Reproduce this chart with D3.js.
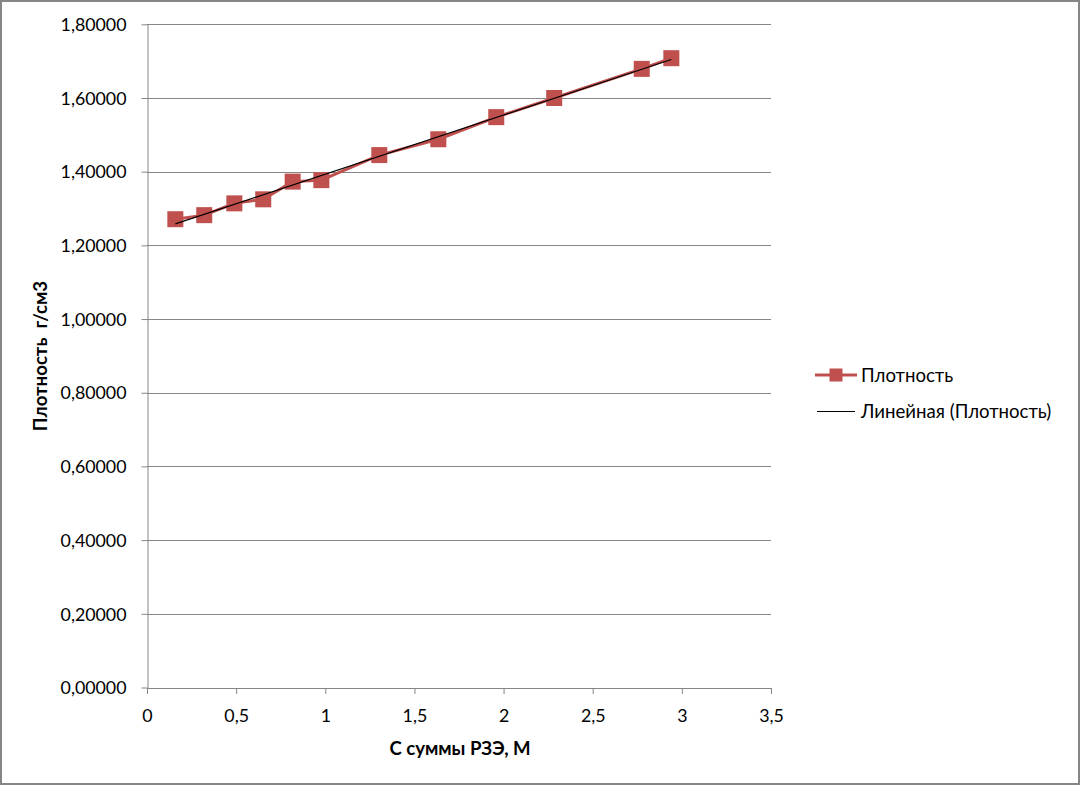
<!DOCTYPE html>
<html><head><meta charset="utf-8">
<script src="https://cdn.jsdelivr.net/npm/d3@7"></script>
<style>
html,body{margin:0;padding:0;background:#fff;}
svg{display:block;font-family:Lato, "Open Sans", sans-serif;}
text{white-space:pre;}
</style></head>
<body><svg id="c" width="1080" height="785"></svg>
<script>
const xValues = [0.159, 0.321, 0.490, 0.652, 0.817, 0.978, 1.303, 1.634, 1.959, 2.284, 2.775, 2.941];
const densityValues = [1.271, 1.282, 1.314, 1.325, 1.373, 1.377, 1.445, 1.488, 1.548, 1.600, 1.679, 1.708];
const yTicks = [0, 0.2, 0.4, 0.6, 0.8, 1.0, 1.2, 1.4, 1.6, 1.8];
const xTicks = [0, 0.5, 1, 1.5, 2, 2.5, 3, 3.5];
const seriesName = "Плотность";
const trendName = "Линейная (Плотность)";
const xTitle = "С суммы РЗЭ, М";
const yTitle = "Плотность  г/см3";

(function () {
const svg = d3.select("#c");
const W = 1080, H = 785;
const pLeft = 147, pRight = 771, pTop = 24.3, pBottom = 687.5;
const x = d3.scaleLinear().domain([0, 3.5]).range([pLeft, pRight]);
const y = d3.scaleLinear().domain([0, 1.8]).range([pBottom, pTop]);
const grey = "#868686", red = "#C0504D";

// outer border
svg.append("rect").attr("x", 1).attr("y", 1).attr("width", W - 2).attr("height", H - 2)
  .attr("fill", "#fff").attr("stroke", grey).attr("stroke-width", 2);

// gridlines
svg.append("g").selectAll("line").data(yTicks.filter(d => d > 0)).join("line")
  .attr("x1", pLeft).attr("x2", pRight)
  .attr("y1", d => Math.round(y(d)) + 0.5).attr("y2", d => Math.round(y(d)) + 0.5)
  .attr("stroke", grey).attr("stroke-width", 1);

const fmtY = d => d3.format(".5f")(d).replace(".", ",");
const fmtX = d => String(d).replace(".", ",");

// y axis
const yAxis = svg.append("g").attr("transform", `translate(${pLeft + 0.5},0)`)
  .call(d3.axisLeft(y).tickValues(yTicks).tickFormat(fmtY).tickSize(6).tickSizeOuter(0));
yAxis.select(".domain").attr("stroke", grey);
yAxis.selectAll(".tick line").attr("stroke", grey);
yAxis.selectAll(".tick text").attr("fill", "#000").attr("font-size", 17.8)
  .attr("font-family", "Lato, sans-serif").attr("x", -21).attr("dy", "0.35em");

// x axis
const xAxis = svg.append("g").attr("transform", `translate(0,${pBottom + 0.5})`)
  .call(d3.axisBottom(x).tickValues(xTicks).tickFormat(fmtX).tickSize(6).tickSizeOuter(0));
xAxis.select(".domain").attr("stroke", grey);
xAxis.selectAll(".tick line").attr("stroke", grey);
xAxis.selectAll(".tick text").attr("fill", "#000").attr("font-size", 17.8)
  .attr("font-family", "Lato, sans-serif").attr("y", 21).attr("dy", "0.71em");

// series line
const pts = xValues.map((v, i) => [v, densityValues[i]]);
svg.append("path").datum(pts)
  .attr("d", d3.line().x(d => x(d[0])).y(d => y(d[1])))
  .attr("fill", "none").attr("stroke", red).attr("stroke-width", 3).attr("stroke-linejoin", "round");

// markers
const ms = 16;
svg.append("g").selectAll("rect").data(pts).join("rect")
  .attr("x", d => x(d[0]) - ms / 2).attr("y", d => y(d[1]) - ms / 2)
  .attr("width", ms).attr("height", ms).attr("fill", red);

// linear trend (least squares)
const mx = d3.mean(xValues), my = d3.mean(densityValues);
const slope = d3.sum(pts, d => (d[0] - mx) * (d[1] - my)) / d3.sum(pts, d => (d[0] - mx) ** 2);
const icpt = my - slope * mx;
const x0 = d3.min(xValues), x1 = d3.max(xValues);
svg.append("line")
  .attr("x1", x(x0)).attr("y1", y(icpt + slope * x0))
  .attr("x2", x(x1)).attr("y2", y(icpt + slope * x1))
  .attr("stroke", "#000").attr("stroke-width", 1.2);

// axis titles
svg.append("text").attr("x", 460).attr("y", 755).attr("text-anchor", "middle")
  .attr("font-size", 18.6).attr("font-weight", "bold").text(xTitle);
svg.append("text").attr("transform", "translate(47,356) rotate(-90)").attr("text-anchor", "middle")
  .attr("font-size", 18.6).attr("font-weight", "bold").text(yTitle);

// legend
const lg = svg.append("g");
lg.append("line").attr("x1", 815).attr("x2", 857).attr("y1", 375).attr("y2", 375)
  .attr("stroke", red).attr("stroke-width", 3);
lg.append("rect").attr("x", 829.5).attr("y", 368.5).attr("width", 13).attr("height", 13).attr("fill", red);
lg.append("text").attr("x", 861).attr("y", 375).attr("dy", "0.35em").attr("font-size", 18.6).text(seriesName);
lg.append("line").attr("x1", 817).attr("x2", 855).attr("y1", 411.5).attr("y2", 411.5)
  .attr("stroke", "#000").attr("stroke-width", 1);
lg.append("text").attr("x", 861).attr("y", 411.5).attr("dy", "0.35em").attr("font-size", 18.6).text(trendName);
})();
</script></body></html>
